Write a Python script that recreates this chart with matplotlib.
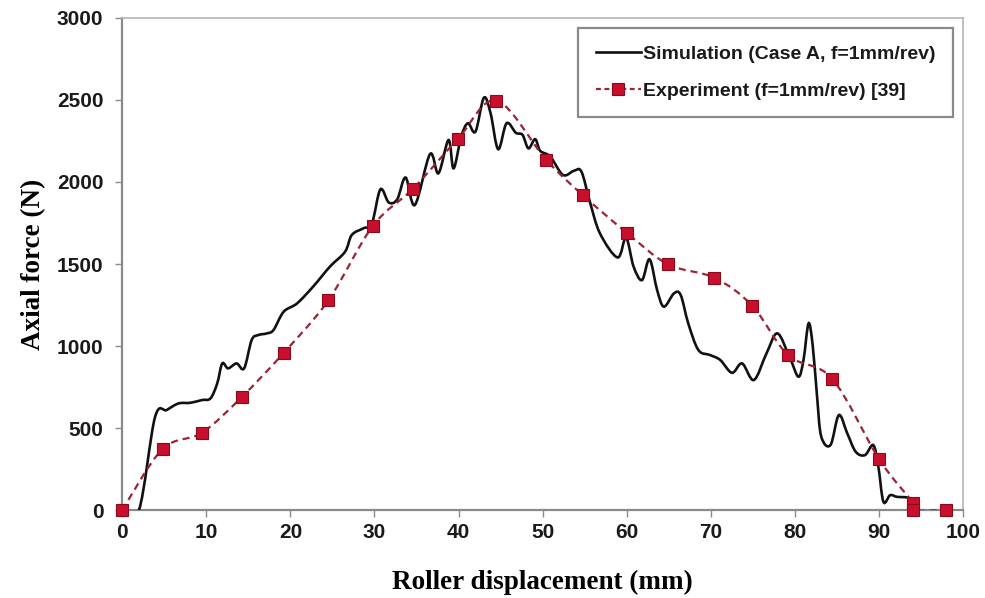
import numpy as np
import matplotlib
matplotlib.use("Agg")
import matplotlib.pyplot as plt
from matplotlib.path import Path
from matplotlib.patches import PathPatch
from matplotlib.lines import Line2D

# Simulated axial force (Case A, f = 1 mm/rev)
sim_x = [0, 2.0, 3.9, 5.3, 6.7, 8.1, 9.5, 10.5, 11.3, 11.9, 12.6, 13.6, 14.5, 15.4,
         16.2, 17.2, 18.0, 19.2, 20.8, 22.7, 24.7, 26.5, 27.3, 28.7, 29.7, 30.7,
         31.7, 32.7, 33.7, 34.8, 36.6, 37.6, 38.8, 39.4, 40.3, 41.1, 42.0, 43.0,
         43.8, 44.7, 45.7, 46.8, 47.6, 48.3, 49.1, 49.7, 50.9, 52.4, 53.7, 54.6,
         55.6, 56.8, 58.9, 59.9, 60.8, 61.8, 62.7, 63.6, 64.4, 65.6, 66.4, 67.3,
         68.5, 69.9, 71.1, 72.5, 73.7, 75.1, 76.6, 77.9, 79.4, 80.4, 81.0, 81.6,
         82.1, 82.6, 83.1, 84.2, 85.2, 86.2, 87.2, 88.3, 89.3, 89.9, 90.5, 91.3,
         92.1, 93.3, 93.9]
sim_y = [0, 0, 565, 610, 650, 654, 671, 681, 772, 894, 864, 894, 864, 1037,
         1067, 1077, 1098, 1209, 1260, 1362, 1484, 1575, 1677, 1718, 1748, 1955,
         1875, 1894, 2027, 1860, 2170, 2053, 2256, 2083, 2276, 2358, 2307, 2513,
         2419, 2200, 2358, 2300, 2287, 2205, 2261, 2190, 2155, 2043, 2068, 2063,
         1880, 1687, 1540, 1660, 1484, 1402, 1529, 1341, 1240, 1321, 1311, 1138,
         976, 945, 915, 837, 894, 793, 955, 1077, 925, 813, 915, 1138,
         1000, 700, 450, 396, 579, 468, 356, 335, 396, 264, 51, 91,
         81, 77, 61]

# Experimental axial force (f = 1 mm/rev) [39]
exp_x = [0, 4.8, 9.5, 14.2, 19.2, 24.5, 29.8, 34.6, 39.9, 44.5, 50.4, 54.8,
         60.0, 64.9, 70.4, 74.9, 79.2, 84.4, 90.0, 94.0, 94.0, 97.9]
exp_y = [0, 372, 472, 688, 958, 1278, 1732, 1960, 2262, 2496, 2136, 1918,
         1690, 1498, 1416, 1246, 943, 801, 309, 45, 0, 0]

x_ticks = [0, 10, 20, 30, 40, 50, 60, 70, 80, 90, 100]
y_ticks = [0, 500, 1000, 1500, 2000, 2500, 3000]

sim_label = "Simulation (Case A, f=1mm/rev)"
exp_label = "Experiment (f=1mm/rev) [39]"
x_label = "Roller displacement (mm)"
y_label = "Axial force (N)"


def smooth_path(xs, ys):
    """Cubic Bezier path through the points (Catmull-Rom style smoothing)."""
    pts = np.column_stack([xs, ys]).astype(float)
    n = len(pts)
    verts = [pts[0]]
    codes = [Path.MOVETO]
    for i in range(n - 1):
        p0 = pts[i - 1] if i > 0 else pts[i]
        p1 = pts[i]
        p2 = pts[i + 1]
        p3 = pts[i + 2] if i + 2 < n else pts[i + 1]
        c1 = p1 + (p2 - p0) / 6.0
        c2 = p2 - (p3 - p1) / 6.0
        verts += [c1, c2, p2]
        codes += [Path.CURVE4] * 3
    return Path(verts, codes)


plt.rcParams["font.family"] = ["Liberation Sans", "DejaVu Sans"]

fig = plt.figure(figsize=(9.85, 5.98), dpi=100)
ax = fig.add_axes([0.124, 0.147, 0.854, 0.823])

sim_color = "#111111"
exp_line_color = "#9B2335"
exp_marker_color = "#C8102E"
marker_edge = "#8B0A1A"

ax.add_patch(PathPatch(smooth_path(sim_x, sim_y), facecolor="none",
                       edgecolor=sim_color, lw=1.9, zorder=3))
ax.add_patch(PathPatch(smooth_path(exp_x, exp_y), facecolor="none",
                       edgecolor=exp_line_color, lw=1.6,
                       linestyle=(0, (3.2, 2.2)), zorder=4))
ax.plot(exp_x, exp_y, linestyle="none", marker="s", markersize=8.5,
        markerfacecolor=exp_marker_color, markeredgecolor=marker_edge,
        markeredgewidth=0.8, zorder=5, clip_on=False)

ax.set_xlim(0, 100)
ax.set_ylim(0, 3000)
ax.set_xticks(x_ticks)
ax.set_yticks(y_ticks)
ax.set_xticklabels([str(v) for v in x_ticks])
ax.set_yticklabels([str(v) for v in y_ticks])

for side in ["left", "bottom"]:
    ax.spines[side].set_color("#8a8a8a")
    ax.spines[side].set_linewidth(1.6)
for side in ["top", "right"]:
    ax.spines[side].set_color("#b5b5b5")
    ax.spines[side].set_linewidth(1.2)

ax.tick_params(axis="both", direction="out", length=5, width=1.0,
               color="#8a8a8a", labelsize=15)
ax.tick_params(axis="y", pad=8.5)
ax.tick_params(axis="x", pad=4)
for lab in ax.get_xticklabels() + ax.get_yticklabels():
    lab.set_fontweight("bold")
    lab.set_color("#1a1a1a")

ax.set_xlabel(x_label, fontsize=19.5, fontweight="bold",
              family="Liberation Serif", labelpad=20)
ax.set_ylabel(y_label, fontsize=19.5, fontweight="bold",
              family="Liberation Serif", labelpad=8)

handles = [
    Line2D([], [], color=sim_color, lw=1.9),
    Line2D([], [], color=exp_line_color, lw=1.6, linestyle=(0, (2.2, 1.6)),
           marker="s", markersize=8.5, markerfacecolor=exp_marker_color,
           markeredgecolor=marker_edge, markeredgewidth=0.8),
]
leg = ax.legend(handles, [sim_label, exp_label], loc="upper right",
                bbox_to_anchor=(0.988, 0.980), borderaxespad=0.0,
                frameon=True, fancybox=False, edgecolor="#8a8a8a",
                framealpha=1.0, handlelength=2.35, handletextpad=0.1,
                labelspacing=1.0, borderpad=0.9, numpoints=1,
                prop={"weight": "bold", "size": 14})
leg.get_frame().set_linewidth(1.6)
for t in leg.get_texts():
    t.set_color("#1a1a1a")

fig.savefig("out.png", dpi=100)
